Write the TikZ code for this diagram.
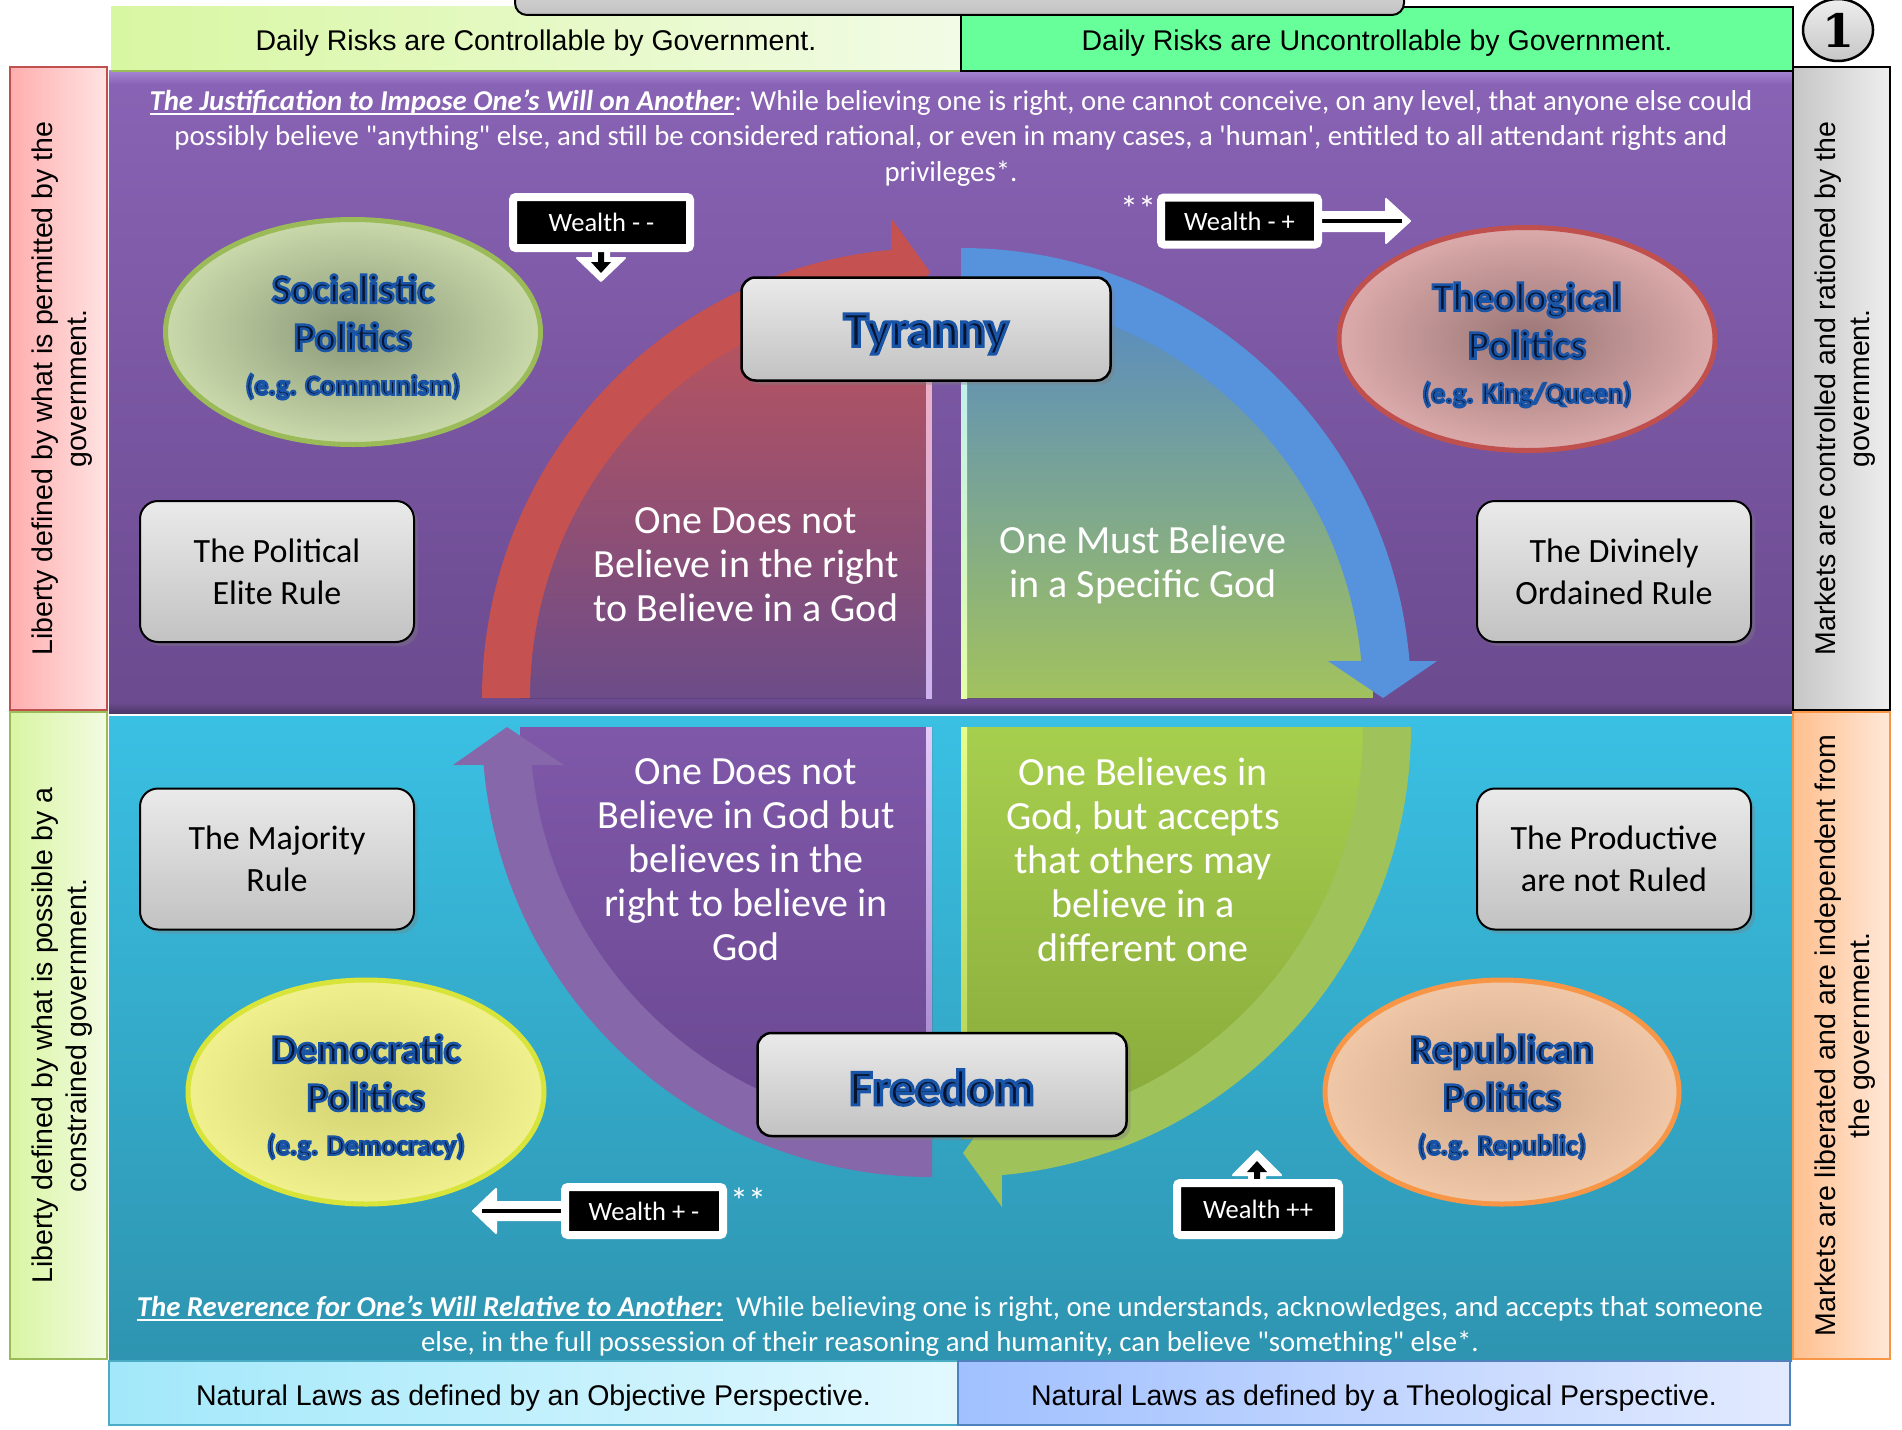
\documentclass[tikz,border=0pt]{standalone}
\usepackage{fontspec}
\setmainfont{Carlito}
\newfontfamily\arialf{Liberation Sans}
\newfontfamily\numf{DejaVu Serif}
\usetikzlibrary{shapes.geometric,shadows}

\definecolor{purpT}{HTML}{8963B5}
\definecolor{purpB}{HTML}{6B4A8F}
\definecolor{purpHi}{HTML}{A888D6}
\definecolor{purpLo}{HTML}{4E3868}
\definecolor{blueT}{HTML}{3AC0E3}
\definecolor{blueB}{HTML}{2E94B0}
\definecolor{navytext}{HTML}{071430}
\definecolor{arrRed}{HTML}{C55150}
\definecolor{arrBlue}{HTML}{5693DC}
\definecolor{arrPurp}{HTML}{8567AA}
\definecolor{arrGreen}{HTML}{A0C25B}
\definecolor{secRedT}{HTML}{C0545A}
\definecolor{secRedB}{HTML}{6C4C88}
\definecolor{secBlueT}{HTML}{5589C6}
\definecolor{secBlueB}{HTML}{A2C25E}
\definecolor{secPurpT}{HTML}{7F58A9}
\definecolor{secPurpB}{HTML}{6A4891}
\definecolor{secGrnT}{HTML}{A7CF4E}
\definecolor{secGrnB}{HTML}{87A83A}
\definecolor{hlPinkT}{HTML}{F4AEBC}
\definecolor{hlPinkB}{HTML}{CDB2F0}
\definecolor{hlCyanT}{HTML}{B8ECFF}
\definecolor{hlCyanB}{HTML}{E4FFA8}
\definecolor{hlLavT}{HTML}{E2CCFA}
\definecolor{hlLavB}{HTML}{9C7CC8}
\definecolor{hlYelT}{HTML}{E6FF8C}
\definecolor{hlYelB}{HTML}{B0CC50}
\definecolor{hdrL1}{HTML}{D8F7A2}
\definecolor{hdrL2}{HTML}{F2FBE6}
\definecolor{hdrR}{HTML}{66FF99}
\definecolor{botL1}{HTML}{A2E8FA}
\definecolor{botL2}{HTML}{E2F8FF}
\definecolor{botLd}{HTML}{4BACC6}
\definecolor{botR1}{HTML}{A0C0FF}
\definecolor{botR2}{HTML}{E2EAFF}
\definecolor{botRd}{HTML}{4F81BD}
\definecolor{pinkT}{HTML}{FFE3E3}
\definecolor{pinkB}{HTML}{FFAEAE}
\definecolor{pinkBd}{HTML}{C0504D}
\definecolor{lgrnT}{HTML}{F2FBE2}
\definecolor{lgrnB}{HTML}{D9F5A2}
\definecolor{lgrnBd}{HTML}{9BBB59}
\definecolor{greyT}{HTML}{EEEEEE}
\definecolor{greyB}{HTML}{C6C6C6}
\definecolor{orT}{HTML}{FFE8D8}
\definecolor{orB}{HTML}{FFBF8E}
\definecolor{orBd}{HTML}{F79646}
\definecolor{boxT}{HTML}{EAEAEA}
\definecolor{boxB}{HTML}{C2C2C2}
\definecolor{elGrnBd}{HTML}{9BBB59}
\definecolor{elGrnIn}{HTML}{8A9878}
\definecolor{elGrnOut}{HTML}{CAD9AA}
\definecolor{elRedBd}{HTML}{C0504D}
\definecolor{elRedIn}{HTML}{9A7676}
\definecolor{elRedOut}{HTML}{DCAAAA}
\definecolor{elYelBd}{HTML}{D8E43A}
\definecolor{elYelIn}{HTML}{D2D272}
\definecolor{elYelOut}{HTML}{F0F08E}
\definecolor{elOrBd}{HTML}{F79646}
\definecolor{elOrIn}{HTML}{CFA88C}
\definecolor{elOrOut}{HTML}{F0C8A8}

\newsavebox\ulbox
\newcommand\uln[1]{\sbox\ulbox{#1}\leavevmode\rlap{\rule[-4.5pt]{\wd\ulbox}{1.8pt}}\usebox\ulbox}
% outlined text: navy fill, blue stroke (PDF text render mode 2)
\newcommand\glw[2]{{\color{navytext}\special{pdf:literal direct 2 Tr #1 w 0.10 0.33 0.65 RG}#2\special{pdf:literal direct 0 Tr}}}

\begin{document}
\begin{tikzpicture}[x=1pt,y=-1pt,
  every node/.style={inner sep=0pt,outer sep=0pt},
  hdrtxt/.style={font=\arialf\fontsize{28.5}{34}\selectfont, text=black},
  sidetxt/.style={font=\arialf\fontsize{28.5}{34}\selectfont, align=center, text=black, rotate=90},
  greybox/.style={draw=black, line width=2pt, rounded corners=18pt, top color=boxT, bottom color=boxB,
    minimum width=274pt, minimum height=141pt, align=center, font=\fontsize{34}{42}\selectfont,
    drop shadow={opacity=0.35,shadow xshift=4pt,shadow yshift=-4pt}},
  quadtxt/.style={text=white, align=center, font=\fontsize{40}{44}\selectfont},
  bigtxt/.style={align=center, font=\bfseries\fontsize{40}{48}\selectfont},
  capbox/.style={draw=black, line width=2.5pt, rounded corners=14pt, top color=boxT, bottom color=boxB,
    minimum width=369pt, minimum height=103pt,
    drop shadow={opacity=0.4,shadow xshift=4pt,shadow yshift=-4pt}},
  captxt/.style={font=\bfseries\fontsize{50}{56}\selectfont},
  wealth/.style={fill=black, draw=white, line width=8pt, rounded corners=3pt, text=white,
    font=\fontsize{26.5}{30}\selectfont,
    drop shadow={opacity=0.3,shadow xshift=3pt,shadow yshift=-3pt}},
  wfill/.style={fill=white, draw=white, line width=2pt, line join=round},
  paneltxt/.style={text=white, align=center, font=\fontsize{28.8}{35.2}\selectfont},
  asttxt/.style={text=white, font=\fontsize{36}{36}\selectfont},
  ellbase/.style={ellipse, line width=5pt},
]
\useasboundingbox (0,0) rectangle (1902,1429);
\fill[white] (0,0) rectangle (1902,1429);

% ---------- main panels ----------
\fill[top color=purpT, bottom color=purpB] (109,70) rectangle (1792,713);
\fill[top color=purpHi, bottom color=purpT] (109,70) rectangle (1792,84);
\fill[top color=purpB, bottom color=purpLo] (109,703) rectangle (1792,713);
\fill[top color=blueT, bottom color=blueB] (109,716) rectangle (1792,1361);

% ---------- header row ----------
\node[minimum width=850pt, minimum height=64pt, left color=hdrL1, right color=hdrL2] (hl) at (536,39) {};
\draw[lgrnBd, line width=2.5pt] (hl.south west) -- (hl.south east);
\node[minimum width=832pt, minimum height=64pt, fill=hdrR, draw=black, line width=1.5pt] (hr) at (1377,39) {};
\node[hdrtxt] (hlt) at (536,43.5) {Daily Risks are Controllable by Government.};
\node[hdrtxt] (hrt) at (1377,43.5) {Daily Risks are Uncontrollable by Government.};
\draw[black, line width=2pt, rounded corners=12pt, top color=boxT, bottom color=boxB] (515,-40) rectangle (1404,15);
\node[ellipse, draw=black, line width=2.5pt, top color=greyT, bottom color=greyB, minimum width=70pt, minimum height=62pt, font=\numf\bfseries\fontsize{46}{46}\selectfont] (one) at (1838,30) {1};

% ---------- side columns ----------
\node[rotate=90, minimum width=643pt, minimum height=97pt, left color=pinkB, right color=pinkT, draw=pinkBd, line width=2pt] (lt) at (58.5,388.5) {};
\node[rotate=90, minimum width=647pt, minimum height=97pt, left color=lgrnB, right color=lgrnT, draw=lgrnBd, line width=2pt] (lb) at (58.5,1035.5) {};
\node[rotate=90, minimum width=643pt, minimum height=97pt, left color=greyB, right color=greyT, draw=black, line width=1.5pt] (rt) at (1841.5,388.5) {};
\node[rotate=90, minimum width=647pt, minimum height=97pt, left color=orB, right color=orT, draw=orBd, line width=2pt] (rb) at (1841.5,1035.5) {};
\node[sidetxt] (ltt) at (62.5,388.5) {Liberty defined by what is permitted by the\\government.};
\node[sidetxt] (lbt) at (62.5,1035.5) {Liberty defined by what is possible by a\\constrained government.};
\node[sidetxt] (rtt) at (1845.5,388.5) {Markets are controlled and rationed by the\\government.};
\node[sidetxt] (rbt) at (1845.5,1035.5) {Markets are liberated and are independent from\\the government.};

% ---------- bottom row ----------
\node[minimum width=849pt, minimum height=64pt, left color=botL1, right color=botL2, draw=botLd, line width=1.5pt] (bl) at (533.5,1393) {};
\node[minimum width=832pt, minimum height=64pt, left color=botR1, right color=botR2, draw=botRd, line width=1.5pt] (br) at (1374,1393) {};
\node[hdrtxt] (blt) at (533.5,1398) {Natural Laws as defined by an Objective Perspective.};
\node[hdrtxt] (brt) at (1374,1398) {Natural Laws as defined by a Theological Perspective.};

% ---------- quadrants ----------
\begin{scope}[shift={(932,698)}]
  \fill[top color=secRedT, bottom color=secRedB] (0,0) -- (180:412) arc[start angle=180,end angle=270,radius=412] -- cycle;
  \fill[top color=hlPinkT, bottom color=hlPinkB] (-6,-400) rectangle (0,0);
  \fill[arrRed] (180:450) arc[start angle=180,end angle=264.8,radius=450] -- (-41,-480) -- (-2,-426) -- (-41,-372) -- (264.2:402) arc[start angle=264.2,end angle=180,radius=402] -- cycle;
\end{scope}
\begin{scope}[shift={(961,698)}]
  \fill[top color=secBlueT, bottom color=secBlueB] (0,0) -- (270:412) arc[start angle=270,end angle=360,radius=412] -- cycle;
  \fill[top color=hlCyanT, bottom color=hlCyanB] (0,-400) rectangle (6,0);
  \fill[arrBlue] (270:450) arc[start angle=270,end angle=355.3,radius=450] -- (476,-37) -- (422,0) -- (367,-37) -- (354.7:402) arc[start angle=354.7,end angle=270,radius=402] -- cycle;
\end{scope}
\begin{scope}[shift={(932,727)}]
  \fill[top color=secPurpT, bottom color=secPurpB] (0,0) -- (90:412) arc[start angle=90,end angle=180,radius=412] -- cycle;
  \fill[top color=hlLavT, bottom color=hlLavB] (-6,0) rectangle (0,400);
  \fill[arrPurp] (90:450) arc[start angle=90,end angle=175.16,radius=450] -- (-479,38) -- (-425,0) -- (-368,38) -- (174.58:402) arc[start angle=174.58,end angle=90,radius=402] -- cycle;
\end{scope}
\begin{scope}[shift={(961,727)}]
  \fill[top color=secGrnT, bottom color=secGrnB] (0,0) -- (0:412) arc[start angle=0,end angle=90,radius=412] -- cycle;
  \fill[top color=hlYelT, bottom color=hlYelB] (0,0) rectangle (6,400);
  \fill[arrGreen] (0:450) arc[start angle=0,end angle=84.8,radius=450] -- (41,480) -- (2,426) -- (41,372) -- (84.2:402) arc[start angle=84.2,end angle=0,radius=402] -- cycle;
\end{scope}

% quadrant texts
\node[quadtxt] (qtl) at (746,565) {One Does not\\Believe in the right\\to Believe in a God};
\node[quadtxt] (qtr) at (1143,564.5) {One Must Believe\\in a Specific God};
\node[quadtxt] (qbl) at (746,859.5) {One Does not\\Believe in God but\\believes in the\\right to believe in\\God};
\node[quadtxt] (qbr) at (1143,859.5) {One Believes in\\God, but accepts\\that others may\\believe in a\\different one};

% Tyranny / Freedom
\node[capbox] (tyr) at (926,329) {};
\node[captxt] (tyrt) at (926,334) {\glw{3.2}{Tyranny}};
\node[capbox] (free) at (942,1084.5) {};
\node[captxt] (freet) at (942,1087.5) {\glw{3.2}{Freedom}};

% ---------- panel texts ----------
\node[paneltxt] (just) at (951,138) {\uln{\textbf{\textit{The Justification to Impose One’s Will on Another}}}: While believing one is right, one cannot conceive, on any level, that anyone else could\\possibly believe \textquotedbl anything\textquotedbl{} else, and still be considered rational, or even in many cases, a \textquotesingle human\textquotesingle, entitled to all attendant rights and\\privileges*.};
\node[paneltxt] (rev) at (950,1326) {\uln{\textbf{\textit{The Reverence for One’s Will Relative to Another:}}}\ \ While believing one is right, one understands, acknowledges, and accepts that someone\\else, in the full possession of their reasoning and humanity, can believe \textquotedbl something\textquotedbl{} else*.};

% ---------- ellipses ----------
\node[ellbase, draw=elGrnBd, inner color=elGrnIn, outer color=elGrnOut, minimum width=375pt, minimum height=225pt] (soc) at (353,332) {};
\node[bigtxt] (soct) at (353,337) {\glw{2.6}{Socialistic}\\\glw{2.6}{Politics}\\[-4pt]{\fontsize{28}{34}\selectfont\glw{2.2}{(e.g. Communism)}}};
\node[ellbase, draw=elRedBd, inner color=elRedIn, outer color=elRedOut, minimum width=376pt, minimum height=223pt] (theo) at (1527,339) {};
\node[bigtxt] (theot) at (1527,345) {\glw{2.6}{Theological}\\\glw{2.6}{Politics}\\[-4pt]{\fontsize{28}{34}\selectfont\glw{2.2}{(e.g. King/Queen)}}};
\node[ellbase, draw=elYelBd, inner color=elYelIn, outer color=elYelOut, minimum width=356pt, minimum height=224pt] (demo) at (366,1092) {};
\node[bigtxt] (demot) at (366,1097) {\glw{2.6}{Democratic}\\\glw{2.6}{Politics}\\[-4pt]{\fontsize{28}{34}\selectfont\glw{2.2}{(e.g. Democracy)}}};
\node[ellbase, draw=elOrBd, inner color=elOrIn, outer color=elOrOut, minimum width=354pt, minimum height=224pt] (repu) at (1502,1092) {};
\node[bigtxt] (reput) at (1502,1097) {\glw{2.6}{Republican}\\\glw{2.6}{Politics}\\[-4pt]{\fontsize{28}{34}\selectfont\glw{2.2}{(e.g. Republic)}}};

% ---------- grey rule boxes ----------
\node[greybox] (elite) at (277,571.5) {The Political\\Elite Rule};
\node[greybox] (divine) at (1614,571.5) {The Divinely\\Ordained Rule};
\node[greybox] (major) at (277,859) {The Majority\\Rule};
\node[greybox] (prod) at (1614,859) {The Productive\\are not Ruled};

% ---------- wealth pointers ----------
\fill[wfill] (593,246) -- (593,258) -- (577,258) -- (601,281) -- (625,258) -- (609,258) -- (609,246) -- cycle;
\fill[black] (598,244) -- (598,262) -- (591,262) -- (601,273) -- (611,262) -- (604,262) -- (604,244) -- cycle;
\fill[wfill] (1316,212) -- (1386,212) -- (1386,199) -- (1410,221) -- (1386,243) -- (1386,231) -- (1316,231) -- cycle;
\draw[black, line width=4pt] (1316,221) -- (1402,221);
\fill[wfill] (567,1202) -- (496,1202) -- (496,1189) -- (473,1211) -- (496,1233) -- (496,1220) -- (567,1220) -- cycle;
\draw[black, line width=4pt] (567,1211) -- (482,1211);
\fill[wfill] (1249,1183) -- (1249,1175) -- (1233,1175) -- (1257,1151) -- (1281,1175) -- (1265,1175) -- (1265,1183) -- cycle;
\fill[black] (1254,1190) -- (1254,1172) -- (1247,1172) -- (1257,1161) -- (1267,1172) -- (1260,1172) -- (1260,1190) -- cycle;

\node[wealth, minimum width=177pt, minimum height=51pt] (w1) at (601.5,222.5) {Wealth - -};
\node[wealth, minimum width=157pt, minimum height=47pt] (w2) at (1239.5,221) {Wealth - +};
\node[wealth, minimum width=158pt, minimum height=48pt] (w3) at (644,1211) {Wealth + -};
\node[wealth, minimum width=162pt, minimum height=52pt] (w4) at (1258,1209) {Wealth ++};
\node[asttxt] (ast1) at (1138,209) {**};
\node[asttxt] (ast2) at (748,1201) {**};
\end{tikzpicture}
\end{document}
